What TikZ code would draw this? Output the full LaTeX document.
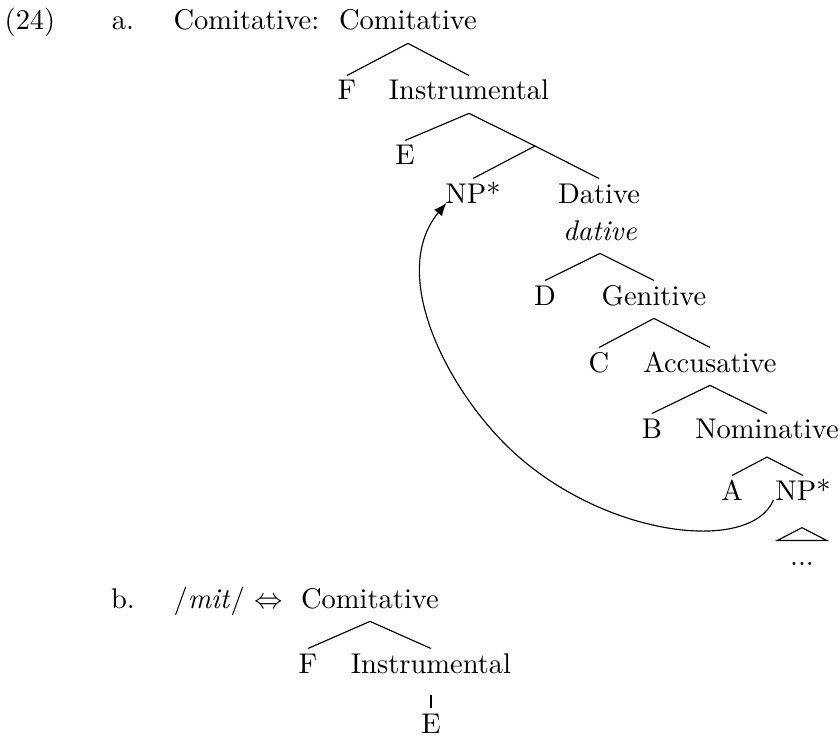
\documentclass[tikz,border=0pt]{standalone}
\usepackage{amsmath,amssymb}
\usepackage{tikz}
\usetikzlibrary{arrows.meta}
\tikzset{
  cat/.style  = {anchor=base, inner sep=1.5pt, text height=6.9pt, text depth=3pt},
  tag/.style  = {anchor=base, inner sep=0pt},
  move/.style = {-{Latex[length=4.5pt,width=3.6pt]}},
}

\begin{document}
\begin{tikzpicture}[x=0.3509pt,y=0.3509pt]
\useasboundingbox (0,0) rectangle (840,-738);
% ---- (24a): full tree ----
\node[tag] (ex) at (30,-30) {(24)};
\node[tag] (la) at (123,-30) {a.};
\node[tag,anchor=base west] (lead) at (173,-30) {Comitative:};
\node[cat] (root) at (408,-30) {Comitative};
\node[cat] (F1) at (347,-100) {F};
\node[cat] (In1) at (469,-100) {Instrumental};
\node[cat] (E1) at (405,-165) {E};
\coordinate (mid) at (535,-146);
\node[cat] (NPa) at (473,-203) {NP*};
\node[cat] (Dat) at (599,-203) {Dative};
\node[cat] (dat) at (600,-240) {\textit{dative}};
\node[cat] (D) at (545,-305) {D};
\node[cat] (Gen) at (654,-305) {Genitive};
\node[cat] (C) at (599,-372) {C};
\node[cat] (Acc) at (710,-372) {Accusative};
\node[cat] (B) at (652,-438) {B};
\node[cat] (Nom) at (767,-438) {Nominative};
\node[cat] (A) at (732,-500) {A};
\node[cat] (NPb) at (803,-500) {NP*};
\node[cat,minimum width=17pt] (dots) at (802,-565) {...};
\foreach \p/\c in {root/F1, root/In1, In1/E1, dat/D, dat/Gen, Gen/C, Gen/Acc, Acc/B, Acc/Nom}
  \draw (\p.south) -- (\c.north);
\draw (In1.south) -- (mid) -- (Dat.north);
\draw (mid) -- (NPa.north);
\draw (A.north) -- ([yshift=-2pt]Nom.south) -- (NPb.north);
\draw (dots.north west) -- ([yshift=4.5pt]dots.north) -- (dots.north east) -- cycle;
% movement arrow
\draw[move] ([xshift=1pt]NPb.base west) .. controls (750,-555) and (600,-537) .. (507,-446)
  .. controls (444,-384) and (389,-272) .. ([xshift=2pt]NPa.base west);
% ---- (24b): lexical entry ----
\node[tag] (lb) at (123,-608) {b.};
\node[tag,anchor=base west] (form) at (173,-608) {/\textit{mit}/ $\Leftrightarrow$};
\node[cat] (rootb) at (370,-608) {Comitative};
\node[cat] (F2) at (308,-673) {F};
\node[cat] (In2) at (431,-673) {Instrumental};
\node[cat] (E2) at (431,-733) {E};
\foreach \p/\c in {rootb/F2, rootb/In2}
  \draw (\p.south) -- (\c.north);
\draw ([yshift=-3pt]In2.south) -- (E2.north);
\end{tikzpicture}
\end{document}
